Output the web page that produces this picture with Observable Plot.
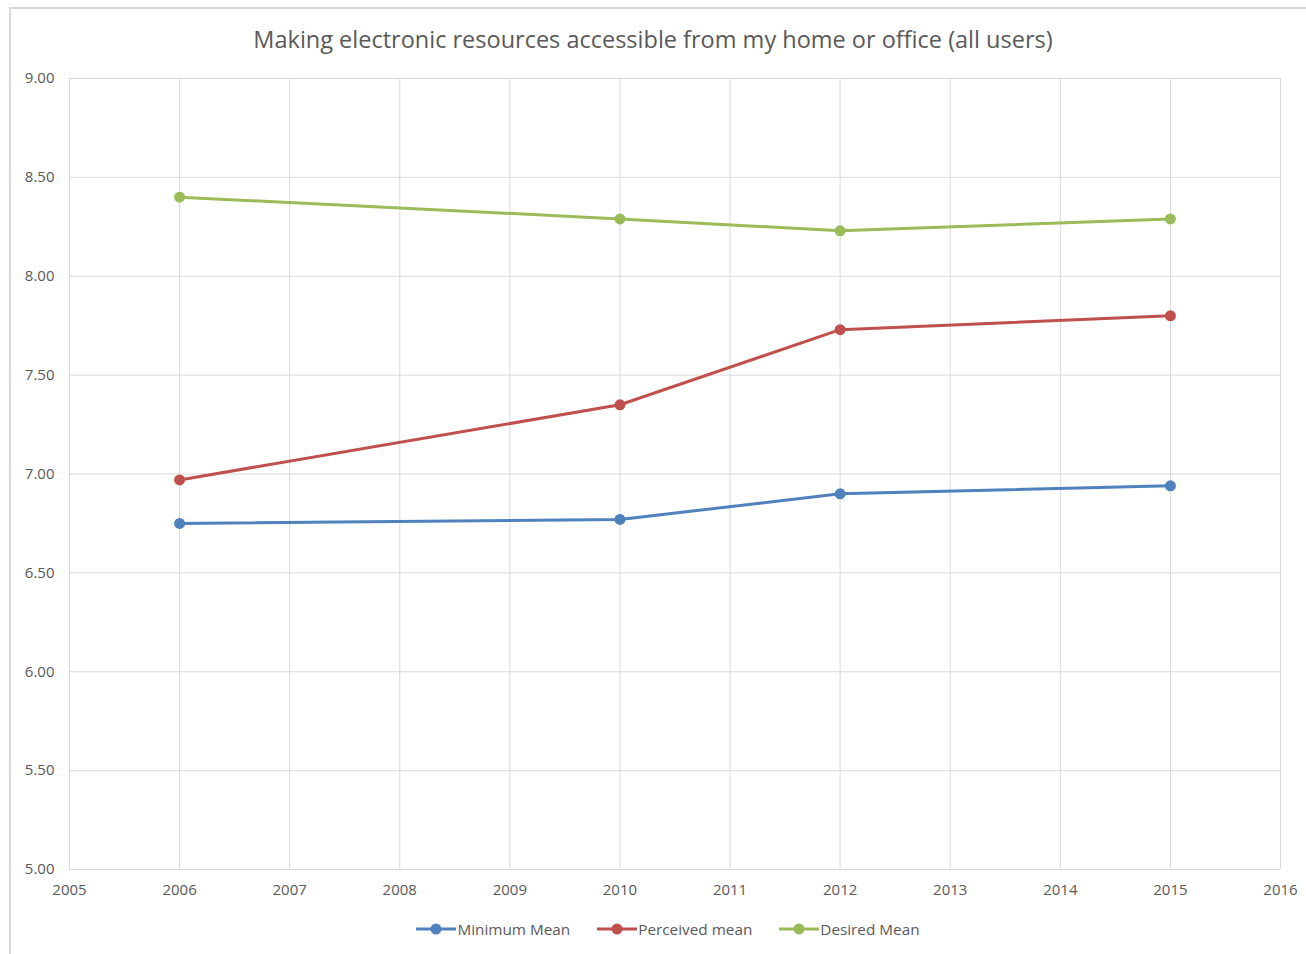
<!DOCTYPE html>
<html>
<head>
<meta charset="utf-8">
<script src="https://cdn.jsdelivr.net/npm/d3@7"></script>
<script src="https://cdn.jsdelivr.net/npm/@observablehq/plot@0.6"></script>
<style>
  body { margin: 0; background: #fff; font-family: "Open Sans", "Liberation Sans", sans-serif; }
  #wrap { position: relative; width: 1306px; height: 954px; overflow: hidden; }
  #frame { position: absolute; left: 9px; top: 7px; width: 1320px; height: 1000px; border: 2px solid #d9d9d9; box-sizing: border-box; }
  #title { position: absolute; left: 0; top: 0; width: 1306px; height: 62px; text-align: center; font-size: 23.5px; line-height: 78px; color: #595959; }
  #chart { position: absolute; left: 0; top: 62px; }
  #legend { position: absolute; left: 15px; top: 919px; width: 1306px; display: flex; justify-content: center; gap: 27px; font-size: 15.3px; color: #595959; }
  .item { display: flex; align-items: center; }
  .item svg { margin-right: 1px; }
</style>
</head>
<body>
<div id="wrap">
  <div id="frame"></div>
  <div id="title">Making electronic resources accessible from my home or office (all users)</div>
  <div id="chart"></div>
  <div id="legend"></div>
</div>
<script>
const years = [2006, 2010, 2012, 2015];
const seriesNames = ["Minimum Mean", "Perceived mean", "Desired Mean"];
const minimumMean = [6.75, 6.77, 6.90, 6.94];
const perceivedMean = [6.97, 7.35, 7.73, 7.80];
const desiredMean = [8.40, 8.29, 8.23, 8.29];
const colors = ["#4F81BD", "#C0504D", "#9BBB59"];
const xTicks = d3.range(2005, 2017);
const yTicks = d3.range(5, 9.001, 0.5);

const valuesBySeries = [minimumMean, perceivedMean, desiredMean];
const data = [];
seriesNames.forEach((s, i) => years.forEach((y, j) => data.push({series: s, year: y, value: valuesBySeries[i][j]})));

const plot = Plot.plot({
  width: 1306,
  height: 847,
  marginLeft: 69,
  marginRight: 26,
  marginTop: 16,
  marginBottom: 40,
  style: {fontFamily: "'Open Sans', 'Liberation Sans', sans-serif", fontSize: "15px", color: "#595959", background: "transparent"},
  x: {domain: [2005, 2016], label: null},
  y: {domain: [5, 9], label: null},
  color: {domain: seriesNames, range: colors},
  marks: [
    Plot.ruleX(xTicks, {stroke: "#d9d9d9", strokeWidth: 1}),
    Plot.ruleY(yTicks, {stroke: "#d9d9d9", strokeWidth: 1}),
    Plot.axisX({ticks: xTicks, tickFormat: d => String(d), tickSize: 0, tickPadding: 15, fontSize: 15, fill: "#595959", label: null}),
    Plot.axisY({ticks: yTicks, tickFormat: d => d.toFixed(2), tickSize: 0, tickPadding: 15, fontSize: 15, fill: "#595959", label: null}),
    Plot.line(data, {x: "year", y: "value", stroke: "series", strokeWidth: 3, curve: "linear"}),
    Plot.dot(data, {x: "year", y: "value", fill: "series", r: 5.5})
  ]
});
document.getElementById("chart").appendChild(plot);

const legend = document.getElementById("legend");
seriesNames.forEach((s, i) => {
  const item = document.createElement("div");
  item.className = "item";
  item.innerHTML = `<svg width="40" height="20"><line x1="0" x2="40" y1="10" y2="10" stroke="${colors[i]}" stroke-width="3"/><circle cx="20" cy="10" r="5.5" fill="${colors[i]}"/></svg><span>${s}</span>`;
  legend.appendChild(item);
});
</script>
</body>
</html>
